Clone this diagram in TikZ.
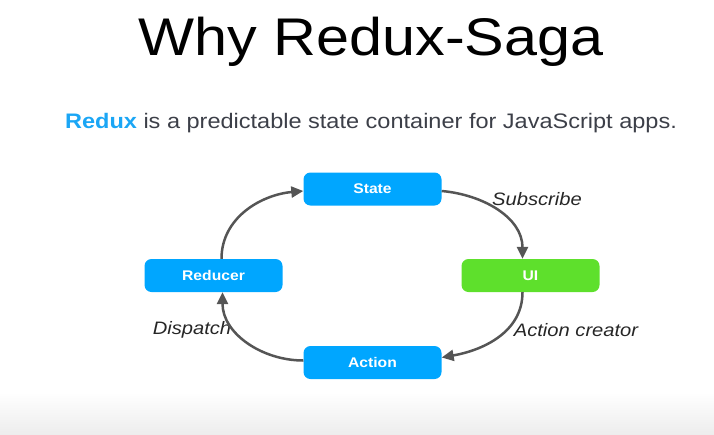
\documentclass[tikz,border=0pt]{standalone}
\usepackage{fontspec}
\setmainfont{Liberation Sans}
\usepackage{graphicx}
\usetikzlibrary{arrows.meta}
\definecolor{boxblue}{RGB}{0,166,255}
\definecolor{boxgreen}{RGB}{94,224,44}
\definecolor{linkblue}{RGB}{27,166,245}
\definecolor{subgray}{RGB}{60,63,72}
\definecolor{arrgray}{RGB}{85,85,85}
\newcommand{\wide}[1]{\scalebox{1.12}[1]{#1}}
\tikzstyle{blk}=[rectangle,rounded corners=7pt,fill=boxblue,text=white,minimum width=138pt,minimum height=33pt,inner sep=0pt,font=\bfseries\fontsize{14}{16}\selectfont]
\tikzstyle{lbl}=[inner sep=0pt,text=black!85,font=\itshape\fontsize{18}{20}\selectfont]
\tikzstyle{arr}=[draw=arrgray,line width=2.5pt,-{Triangle[length=12pt,width=11pt]}]

\begin{document}
\begin{tikzpicture}[x=1pt,y=1pt]
\useasboundingbox (0,0) rectangle (714,-434);
\shade[top color=white,bottom color=black!7] (0,-392) rectangle (714,-434);
\node[anchor=base,inner sep=0pt,font=\fontsize{53}{60}\selectfont] (title) at (371,-55) {\wide{Why Redux-Saga}};
\node[anchor=base,inner sep=0pt,text=subgray,font=\fontsize{21}{24}\selectfont] (intro) at (371,-128) {\wide{\textcolor{linkblue}{\bfseries Redux} is a predictable state container for JavaScript apps.}};
\node[blk] (state) at (372.5,-189) {\wide{State}};
\node[blk,fill=boxgreen] (ui) at (530.5,-275.5) {\wide{UI}};
\node[blk] (action) at (372.5,-362.5) {\wide{Action}};
\node[blk] (reducer) at (213.5,-275.5) {\wide{Reducer}};
\node[lbl] (subscribe) at (537,-199) {\wide{Subscribe}};
\node[lbl] (creator) at (576,-330) {\wide{Action creator}};
\node[lbl] (dispatch) at (192,-330) {\wide{Dispatch}};
\draw[arr] ([yshift=-2]state.east) to[out=-5,in=90] ([xshift=-8]ui.north);
\draw[arr] ([xshift=-8]ui.south) to[out=-90,in=10] ([yshift=5]action.east);
\draw[arr] ([yshift=2]action.west) to[out=180,in=-90] ([xshift=9]reducer.south);
\draw[arr] ([xshift=8]reducer.north) to[out=90,in=185] ([yshift=-2]state.west);
\end{tikzpicture}
\end{document}
